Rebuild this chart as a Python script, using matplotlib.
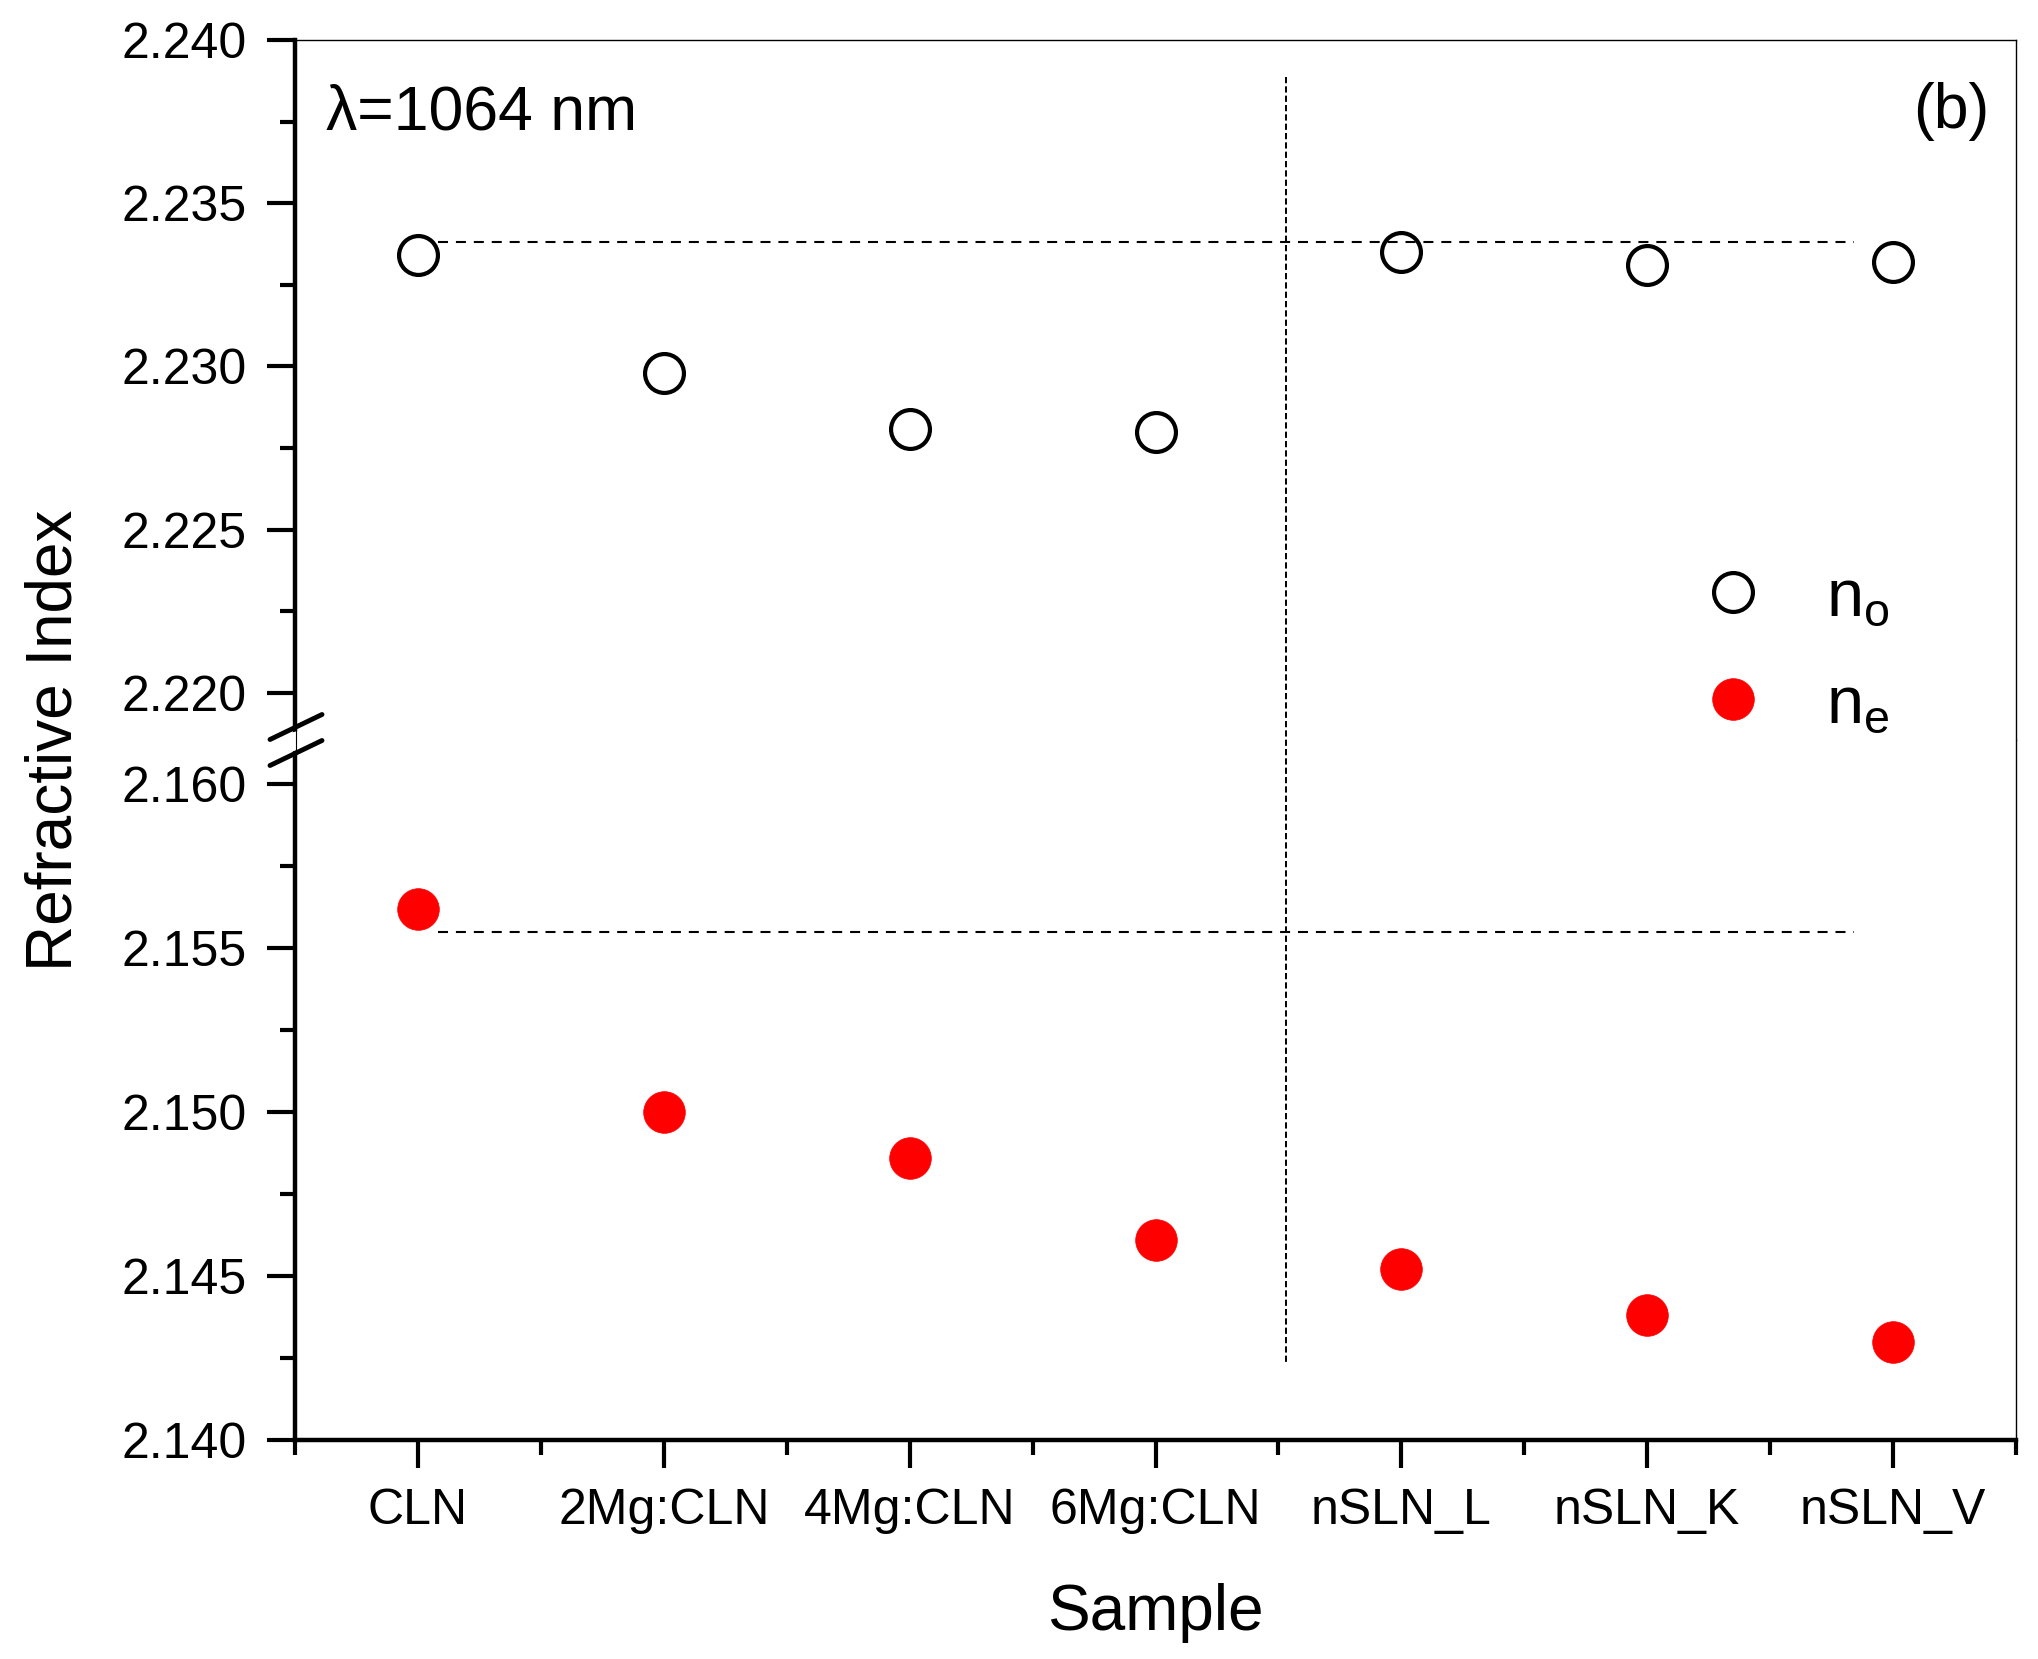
import matplotlib
matplotlib.use("Agg")
import matplotlib.pyplot as plt
from matplotlib.lines import Line2D
from matplotlib.patches import Polygon
import matplotlib.transforms as mtransforms

plt.rcParams['font.family'] = ['Liberation Sans', 'DejaVu Sans']
plt.rcParams['mathtext.fontset'] = 'custom'
plt.rcParams['mathtext.rm'] = 'Liberation Sans'
plt.rcParams['mathtext.it'] = 'Liberation Sans'

samples = ["CLN", "2Mg:CLN", "4Mg:CLN", "6Mg:CLN", "nSLN_L", "nSLN_K", "nSLN_V"]
n_o = [2.2334, 2.2298, 2.2281, 2.2280, 2.2335, 2.2331, 2.2332]
n_e = [2.1562, 2.1500, 2.1486, 2.1461, 2.1452, 2.1438, 2.1430]
no_ref = 2.2338
ne_ref = 2.1555
ref_span = (1.08, 6.84)
divider_x = 4.53
top_ticks = [2.220, 2.225, 2.230, 2.235, 2.240]
bot_ticks = [2.140, 2.145, 2.150, 2.155, 2.160]

W, H = 2038, 1659
fig = plt.figure(figsize=(W / 100, H / 100), dpi=100)

L = 295 / W
R = 2016 / W
T = 1 - 40 / H
B = 1 - 1440 / H
BRK = 1 - 740 / H

ax_t = fig.add_axes([L, BRK, R - L, T - BRK])
ax_b = fig.add_axes([L, B, R - L, BRK - B])

x = list(range(1, len(samples) + 1))

l_no, = ax_t.plot(x, n_o, linestyle='none', marker='o', markersize=28,
                  markerfacecolor='none', markeredgecolor='black', markeredgewidth=3.0)
l_ne, = ax_b.plot(x, n_e, linestyle='none', marker='o', markersize=30,
                  markerfacecolor='#ff0000', markeredgecolor='#ff0000', markeredgewidth=0.5)

ax_t.plot(ref_span, [no_ref, no_ref], color='black', lw=1.5, dashes=(4.8, 3.8))
ax_b.plot(ref_span, [ne_ref, ne_ref], color='black', lw=1.5, dashes=(4.8, 3.8))

ax_t.set_ylim(2.21856, 2.240)
ax_b.set_ylim(2.140, 2.16134)
for ax in (ax_t, ax_b):
    ax.set_xlim(0.5, 7.5)
    ax.spines['left'].set_linewidth(3.2)
    ax.spines['right'].set_linewidth(1.0)
    ax.spines['top'].set_linewidth(1.0)
    ax.spines['bottom'].set_linewidth(3.2)
    ax.tick_params(axis='y', which='major', direction='out', length=20, width=3,
                   labelsize=36, pad=15, right=False)
    ax.tick_params(axis='y', which='minor', direction='out', length=11, width=3, right=False)

ax_t.spines['bottom'].set_visible(False)
ax_b.spines['top'].set_visible(False)
ax_t.set_yticks(top_ticks)
ax_t.set_yticklabels([f"{v:.3f}" for v in top_ticks])
ax_t.set_yticks([2.2225, 2.2275, 2.2325, 2.2375], minor=True)
ax_b.set_yticks(bot_ticks)
ax_b.set_yticklabels([f"{v:.3f}" for v in bot_ticks])
ax_b.set_yticks([2.1425, 2.1475, 2.1525, 2.1575], minor=True)

ax_t.tick_params(axis='x', which='both', bottom=False, top=False, labelbottom=False)
ax_b.set_xticks(x)
ax_b.set_xticklabels(samples)
ax_b.set_xticks([v + 0.5 for v in [0] + x], minor=True)
ax_b.tick_params(axis='x', which='major', direction='out', length=20, width=3,
                 labelsize=36, pad=14.5, top=False)
ax_b.tick_params(axis='x', which='minor', direction='out', length=11, width=3, top=False)

# vertical divider spanning both panels
trans = mtransforms.blended_transform_factory(ax_b.transData, fig.transFigure)
fig.add_artist(Line2D([divider_x, divider_x], [1 - 77 / H, 1 - 1362 / H], transform=trans,
                      color='black', lw=1.4, dashes=(3.2, 1.6)))

# axis break marks on the left spine
def px(xp, yp):
    return (xp / W, 1 - yp / H)

gap = Polygon([px(290, 733), px(302, 730), px(302, 749), px(290, 752)], closed=True,
              transform=fig.transFigure, facecolor='white', edgecolor='none', zorder=5)
fig.add_artist(gap)
fig.add_artist(Line2D([296 / W, 296 / W], [1 - 730 / H, 1 - 752 / H], transform=fig.transFigure,
                      color='black', lw=0.8, zorder=6))
for y0 in (727, 753):
    fig.add_artist(Line2D([270 / W, 322 / W], [1 - (y0 + 12.5) / H, 1 - (y0 - 12.5) / H],
                          transform=fig.transFigure, color='black', lw=3.5,
                          solid_capstyle='round', zorder=7))

# texts
fig.text(326 / W, 1 - 130 / H, "λ=1064 nm", fontsize=45, ha='left', va='baseline')
fig.text(1989 / W, 1 - 128 / H, "(b)", fontsize=45, ha='right', va='baseline')
fig.text(55 / W, 1 - 740 / H, "Refractive Index", fontsize=46, rotation=90,
         ha='center', va='center')
fig.text(1155 / W, 1 - 1613 / H, "Sample", fontsize=46, ha='center', va='center')

leg = fig.legend([l_no, l_ne], [r"$\mathregular{n_o}$", r"$\mathregular{n_e}$"],
                 loc='upper left', bbox_to_anchor=(1666 / W, 1 - 567 / H),
                 frameon=False, fontsize=48, handlelength=2.0, handletextpad=0.4,
                 borderpad=0, labelspacing=0.68, borderaxespad=0)

fig.savefig("out.png", dpi=100)
